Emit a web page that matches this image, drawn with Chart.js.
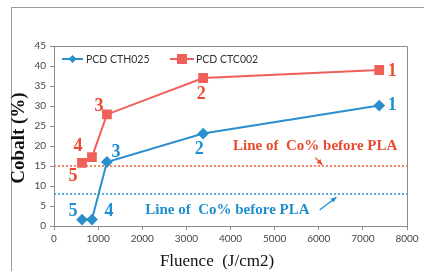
<!DOCTYPE html>
<html><head><meta charset="utf-8">
<script src="https://cdn.jsdelivr.net/npm/chart.js@4.4.1/dist/chart.umd.min.js"></script>
<style>
html,body{margin:0;padding:0;background:#fff;}
#wrap{position:relative;width:424px;height:271px;}
#frame{position:absolute;left:11px;top:7px;width:420px;height:270px;border-top:1px solid #9a9a9a;border-left:1px solid #9a9a9a;}
canvas{position:absolute;left:0;top:0;}
</style></head><body>
<div id="wrap"><div id="frame"></div><canvas id="c" width="424" height="271"></canvas></div>
<script>
// ---- data ----
const pointNames = ['1','2','3','4','5'];
const cthFluence = [7370, 3380, 1200, 860, 635];
const cthCobalt  = [30.1, 23.1, 16.0, 1.6, 1.6];
const ctcFluence = [7370, 3380, 1200, 860, 635];
const ctcCobalt  = [39.0, 37.0, 27.9, 17.2, 15.8];
const baseLineX = [0, 8000];
const ctcBefore = [15, 15];
const cthBefore = [8, 8];
const xTicks = [0,1000,2000,3000,4000,5000,6000,7000,8000];
const yTicks = [0,5,10,15,20,25,30,35,40,45];
const seriesNames = ['PCD CTH025','PCD CTC002'];
const noteText = 'Line of  Co% before PLA';

const BLUE = '#2b8fcd', RED = '#f0605a';
const BLUE_T = '#1f8fd2', RED_T = '#ea4a2e';

const pts = (xs, ys) => xs.map((x,i)=>({x, y:ys[i]}));

// label offsets (pixels) per point
const ctcOff = [[13,1],[-2,16],[-8,-8],[-14,-11],[-9,14]];
const cthOff = [[13,0],[-4,16],[9,-10],[17,-8],[-9,-8]];

const annot = {
  id:'annot',
  afterDatasetsDraw(chart){
    const {ctx, chartArea:a, scales:{x, y}} = chart;
    ctx.save();
    // plot border top/right
    ctx.strokeStyle = '#8c8c8c'; ctx.lineWidth = 1;
    ctx.beginPath();
    ctx.moveTo(a.left, a.top+0.5); ctx.lineTo(a.right+0.5, a.top+0.5); ctx.lineTo(a.right+0.5, a.bottom);
    ctx.stroke();
    // point numbers
    ctx.font = 'bold 18px "Liberation Serif", serif';
    ctx.textAlign = 'center'; ctx.textBaseline = 'middle';
    const drawNums = (xs, ys, offs, col) => {
      ctx.fillStyle = col;
      xs.forEach((v,i)=>{
        ctx.fillText(pointNames[i], x.getPixelForValue(v)+offs[i][0], y.getPixelForValue(ys[i])+offs[i][1]);
      });
    };
    drawNums(ctcFluence, ctcCobalt, ctcOff, RED_T);
    drawNums(cthFluence, cthCobalt, cthOff, BLUE_T);
    // notes
    ctx.font = 'bold 15px "Liberation Serif", serif';
    ctx.fillStyle = RED_T;
    ctx.fillText(noteText, x.getPixelForValue(5920), y.getPixelForValue(19.9));
    ctx.fillStyle = BLUE_T;
    ctx.fillText(noteText, x.getPixelForValue(3930), y.getPixelForValue(4.0));
    // arrows
    const arrow = (x1,y1,x2,y2,col) => {
      const p1=[x.getPixelForValue(x1), y.getPixelForValue(y1)], p2=[x.getPixelForValue(x2), y.getPixelForValue(y2)];
      ctx.strokeStyle = col; ctx.fillStyle = col; ctx.lineWidth = 1.3;
      ctx.beginPath(); ctx.moveTo(p1[0],p1[1]); ctx.lineTo(p2[0],p2[1]); ctx.stroke();
      const ang = Math.atan2(p2[1]-p1[1], p2[0]-p1[0]), L=6;
      ctx.beginPath(); ctx.moveTo(p2[0],p2[1]);
      ctx.lineTo(p2[0]-L*Math.cos(ang-0.45), p2[1]-L*Math.sin(ang-0.45));
      ctx.lineTo(p2[0]-L*Math.cos(ang+0.45), p2[1]-L*Math.sin(ang+0.45));
      ctx.closePath(); ctx.fill();
    };
    arrow(5920, 17.1, 6080, 15.3, RED_T);
    arrow(6020, 4.0, 6400, 7.2, BLUE_T);
    // legend
    const ly = a.top + 13;
    ctx.lineWidth = 2;
    ctx.strokeStyle = BLUE; ctx.beginPath(); ctx.moveTo(a.left+8, ly); ctx.lineTo(a.left+29, ly); ctx.stroke();
    ctx.fillStyle = BLUE; ctx.beginPath();
    const cx = a.left+18.5; ctx.moveTo(cx, ly-4); ctx.lineTo(cx+4, ly); ctx.lineTo(cx, ly+4); ctx.lineTo(cx-4, ly); ctx.closePath(); ctx.fill();
    ctx.strokeStyle = RED; ctx.beginPath(); ctx.moveTo(a.left+116, ly); ctx.lineTo(a.left+140, ly); ctx.stroke();
    ctx.fillStyle = RED; ctx.fillRect(a.left+123, ly-5, 10, 10);
    ctx.font = '10.5px Lato, "Open Sans", sans-serif';
    ctx.fillStyle = '#333'; ctx.textAlign = 'left';
    ctx.fillText(seriesNames[0], a.left+32, ly+0.5);
    ctx.fillText(seriesNames[1], a.left+142, ly+0.5);
    // axis titles
    ctx.fillStyle = '#111';
    ctx.font = '17px "Liberation Serif", serif';
    ctx.textAlign = 'center';
    ctx.fillText('Fluence  (J/cm2)', 217, 262);
    ctx.save();
    ctx.translate(19, 138);
    ctx.rotate(-Math.PI/2);
    ctx.font = 'bold 19px "Liberation Serif", serif';
    ctx.fillText('Cobalt (%)', 0, 0);
    ctx.restore();
    ctx.restore();
  }
};

new Chart(document.getElementById('c'), {
  type: 'line',
  data: {
    datasets: [
      {label: seriesNames[0], data: pts(cthFluence, cthCobalt), borderColor: BLUE, backgroundColor: BLUE,
       borderWidth: 2, pointStyle: 'rectRot', pointRadius: 4.5, pointHoverRadius: 4.5, tension: 0},
      {label: seriesNames[1], data: pts(ctcFluence, ctcCobalt), borderColor: RED, backgroundColor: RED,
       borderWidth: 2, pointStyle: 'rect', pointRadius: 5.5, pointHoverRadius: 5.5, tension: 0},
      {label: 'ctc before', data: pts(baseLineX, ctcBefore), borderColor: '#f26a3c', borderWidth: 1.6,
       borderDash: [2,2], pointRadius: 0},
      {label: 'cth before', data: pts(baseLineX, cthBefore), borderColor: '#3a95d6', borderWidth: 1.6,
       borderDash: [2,2], pointRadius: 0}
    ]
  },
  options: {
    responsive: false, animation: false,
    layout: {padding: {top: 46, right: 17, left: 0, bottom: 0}},
    plugins: {legend: {display: false}, tooltip: {enabled: false}},
    scales: {
      x: {type: 'linear', min: 0, max: 8000,
          afterBuildTicks: s => { s.ticks = xTicks.map(v=>({value:v})); },
          afterFit: s => { s.height = 45; },
          grid: {display: true, drawOnChartArea: false, drawTicks: true, tickLength: 4, color: '#8c8c8c'},
          border: {display: true, color: '#8c8c8c'},
          ticks: {font: {family: 'Lato, "Open Sans", sans-serif', size: 10}, color: '#444', padding: 3, maxRotation: 0,
                  callback: v => String(v)}},
      y: {min: 0, max: 45,
          afterBuildTicks: s => { s.ticks = yTicks.map(v=>({value:v})); },
          afterFit: s => { s.width = 54; },
          grid: {display: true, drawOnChartArea: false, drawTicks: true, tickLength: 4, color: '#8c8c8c'},
          border: {display: true, color: '#8c8c8c'},
          ticks: {font: {family: 'Lato, "Open Sans", sans-serif', size: 10}, color: '#444', padding: 4,
                  callback: v => String(v)}}
    }
  },
  plugins: [annot]
});
</script>
</body></html>
